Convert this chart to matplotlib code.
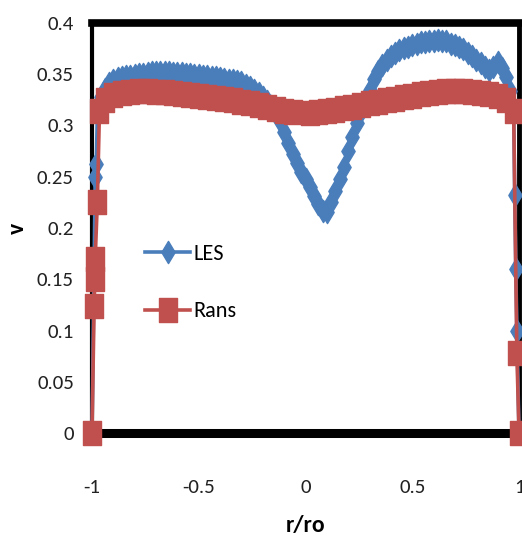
import matplotlib
matplotlib.use("Agg")
import matplotlib.pyplot as plt
from matplotlib.path import Path
from matplotlib.ticker import FuncFormatter, FixedLocator
import logging
logging.getLogger("matplotlib.font_manager").setLevel(logging.ERROR)

# ---- data ----
les_x = [-1.0, -0.985, -0.98, -0.975, -0.96,
         -0.94, -0.92, -0.90, -0.88, -0.86, -0.84, -0.82, -0.80, -0.78, -0.76,
         -0.74, -0.72, -0.70, -0.68, -0.66, -0.64, -0.62, -0.60, -0.58, -0.56,
         -0.54, -0.52, -0.50, -0.48, -0.46, -0.44, -0.42, -0.40, -0.38, -0.36,
         -0.34, -0.32, -0.30, -0.28, -0.26, -0.24, -0.22, -0.20, -0.18, -0.16,
         -0.14, -0.12, -0.10, -0.08, -0.06, -0.04, -0.02, 0.00, 0.02, 0.04,
         0.06, 0.08, 0.10, 0.12, 0.14, 0.16, 0.18, 0.20, 0.22, 0.24,
         0.26, 0.28, 0.30, 0.32, 0.34, 0.36, 0.38, 0.40, 0.42, 0.44,
         0.46, 0.48, 0.50, 0.52, 0.54, 0.56, 0.58, 0.60, 0.62, 0.64,
         0.66, 0.68, 0.70, 0.72, 0.74, 0.76, 0.78, 0.80, 0.82, 0.84,
         0.86, 0.88, 0.90, 0.92, 0.94, 0.96,
         0.975, 0.98, 0.985, 0.99, 1.0]
les_v = [0.0, 0.25, 0.262, 0.312, 0.328,
         0.336, 0.341, 0.344, 0.346, 0.347, 0.348, 0.348, 0.349, 0.350, 0.350,
         0.351, 0.352, 0.352, 0.352, 0.352, 0.352, 0.351, 0.351, 0.351, 0.350,
         0.350, 0.349, 0.349, 0.348, 0.348, 0.347, 0.347, 0.346, 0.345, 0.344,
         0.344, 0.343, 0.342, 0.340, 0.338, 0.335, 0.332, 0.328, 0.324, 0.319,
         0.314, 0.304, 0.294, 0.283, 0.272, 0.263, 0.255, 0.248, 0.240, 0.231,
         0.223, 0.217, 0.216, 0.225, 0.236, 0.248, 0.260, 0.275, 0.289, 0.302,
         0.314, 0.325, 0.335, 0.345, 0.353, 0.359, 0.364, 0.368, 0.371, 0.374,
         0.376, 0.377, 0.379, 0.380, 0.381, 0.381, 0.382, 0.382, 0.383, 0.382,
         0.382, 0.380, 0.379, 0.377, 0.375, 0.371, 0.368, 0.364, 0.361, 0.357,
         0.354, 0.357, 0.362, 0.356, 0.347, 0.334,
         0.316, 0.232, 0.16, 0.10, 0.0]

rans_x = [-1.0, -0.99, -0.987, -0.985, -0.975, -0.965,
          -0.94, -0.90, -0.86, -0.82, -0.78, -0.74, -0.70, -0.66, -0.62, -0.58,
          -0.54, -0.50, -0.46, -0.42, -0.38, -0.34, -0.30, -0.26, -0.22, -0.18,
          -0.14, -0.10, -0.06, 0.02, 0.06, 0.10, 0.14, 0.18, 0.22, 0.26,
          0.30, 0.34, 0.38, 0.42, 0.46, 0.50, 0.54, 0.58, 0.62, 0.66,
          0.70, 0.74, 0.78, 0.82, 0.86, 0.90, 0.94, 0.975, 0.99, 1.0]
rans_v = [0.0, 0.124, 0.15, 0.17, 0.225, 0.314,
          0.325, 0.330, 0.332, 0.333, 0.334, 0.334, 0.333, 0.333, 0.332, 0.331,
          0.330, 0.329, 0.328, 0.327, 0.326, 0.325, 0.323, 0.322, 0.320, 0.318,
          0.316, 0.314, 0.313, 0.312, 0.313, 0.314, 0.315, 0.317, 0.318, 0.320,
          0.322, 0.323, 0.325, 0.326, 0.328, 0.329, 0.331, 0.332, 0.333, 0.334,
          0.334, 0.334, 0.333, 0.332, 0.331, 0.329, 0.325, 0.314, 0.078, 0.0]

x_ticks = [-1, -0.5, 0, 0.5, 1]
y_ticks = [0, 0.05, 0.1, 0.15, 0.2, 0.25, 0.3, 0.35, 0.4]
labels = ["LES", "Rans"]
colors = ["#4A7EBB", "#C0504D"]

# ---- figure ----
fig = plt.figure(figsize=(5.22, 5.44), dpi=100)
ax = fig.add_axes([92 / 522, (544 - 433) / 544, 427 / 522, 410 / 544])

font = ["Carlito", "Liberation Sans Narrow", "Roboto Condensed",
        "Sofia Sans Semi Condensed", "DejaVu Sans"]

diamond = Path([(0, -1), (0.6, 0), (0, 1), (-0.6, 0), (0, -1)],
               [Path.MOVETO, Path.LINETO, Path.LINETO, Path.LINETO, Path.CLOSEPOLY])
rect = Path([(-0.78, -1), (0.78, -1), (0.78, 1), (-0.78, 1), (-0.78, -1)],
            [Path.MOVETO, Path.LINETO, Path.LINETO, Path.LINETO, Path.CLOSEPOLY])

ax.plot(les_x, les_v, color=colors[0], lw=2.6, marker=diamond, ms=16,
        mec=colors[0], mfc=colors[0], label=labels[0], clip_on=False, zorder=3)
ax.plot(rans_x, rans_v, color=colors[1], lw=2.6, marker=rect, ms=17,
        mec=colors[1], mfc=colors[1], label=labels[1], clip_on=False, zorder=4)

ax.set_xlim(-1, 1)
ax.set_ylim(0, 0.4)
ax.xaxis.set_major_locator(FixedLocator(x_ticks))
ax.yaxis.set_major_locator(FixedLocator(y_ticks))
fmt = FuncFormatter(lambda v, p: f"{v:g}")
ax.xaxis.set_major_formatter(fmt)
ax.yaxis.set_major_formatter(fmt)
ax.tick_params(axis="both", length=0, labelsize=15, colors="#222222")
ax.tick_params(axis="y", pad=13)
ax.tick_params(axis="x", pad=33)
for lab in ax.get_xticklabels() + ax.get_yticklabels():
    lab.set_family(font)

for side, lw in [("top", 5.5), ("left", 3.0), ("right", 3.5), ("bottom", 6.5)]:
    ax.spines[side].set_linewidth(lw)
    ax.spines[side].set_color("black")
    ax.spines[side].set_zorder(2.5)
ax.axhline(0, color="white", lw=0.7, zorder=2.6)

ax.set_xlabel("r/ro", family=font, fontsize=17, fontweight="bold")
ax.set_ylabel("v", family=font, fontsize=17, fontweight="bold")
ax.xaxis.set_label_coords(0.5, -0.2)
ax.yaxis.set_label_coords(-0.15, 0.5)

leg = ax.legend(loc="center left", bbox_to_anchor=(0.125, 0.367), frameon=False,
                prop={"family": font, "size": 16}, handlelength=2.0,
                handletextpad=0.15, labelspacing=1.7, borderpad=0, borderaxespad=0)

fig.savefig("out.png", dpi=100)
